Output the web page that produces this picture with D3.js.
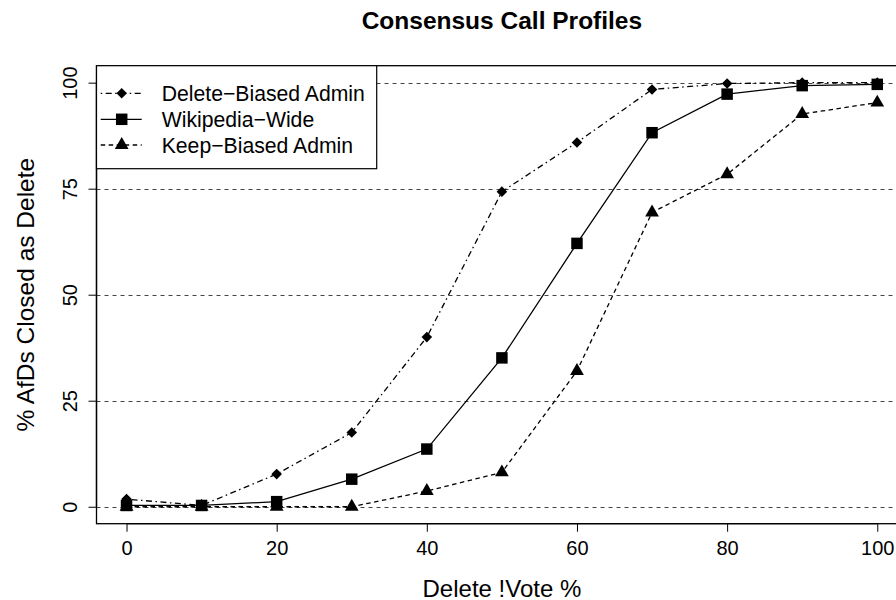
<!DOCTYPE html>
<html>
<head>
<meta charset="utf-8">
<script src="https://cdn.jsdelivr.net/npm/d3@7"></script>
<style>
  html, body { margin: 0; padding: 0; background: #fff; }
  svg { display: block; font-family: "Liberation Sans", Arial, Helvetica, sans-serif; }
</style>
</head>
<body>
<svg id="chart" width="896" height="600"></svg>
<script>
// Share of AfDs closed as delete, by share of delete !votes
const votePct = [0, 10, 20, 30, 40, 50, 60, 70, 80, 90, 100];
const deleteBiased = [1.8, 0.3, 7.7, 17.5, 40.0, 74.3, 85.9, 98.4, 99.8, 100, 100];
const wikipediaWide = [0.3, 0.3, 1.2, 6.5, 13.6, 35.1, 62.1, 88.2, 97.3, 99.3, 99.6];
const keepBiased = [0, 0, 0, 0, 3.7, 8.1, 32.0, 69.4, 78.4, 92.6, 95.3];

const xTicks = [0, 20, 40, 60, 80, 100];
const yTicks = [0, 25, 50, 75, 100];
const seriesNames = ["Delete\u2212Biased Admin", "Wikipedia\u2212Wide", "Keep\u2212Biased Admin"];

const svg = d3.select("#chart");

const x = d3.scaleLinear().domain([-4, 104]).range([96.5, 907.3]);
const y = d3.scaleLinear().domain([-4, 104]).range([523.7, 65.7]);

// square turned 45 degrees (equal width and height)
const symbolRhomb = {
  draw(context, size) {
    const r = Math.sqrt(size / 2);
    context.moveTo(0, -r);
    context.lineTo(r, 0);
    context.lineTo(0, r);
    context.lineTo(-r, 0);
    context.closePath();
  }
};

const styles = [
  { dash: "1.5,3.5,6,3.5", symbol: symbolRhomb, size: 56 },
  { dash: null, symbol: d3.symbolSquare, size: 132 },
  { dash: "4.5,3.5", symbol: d3.symbolTriangle, size: 82 }
];
const seriesValues = [deleteBiased, wikipediaWide, keepBiased];

// horizontal reference lines
svg.append("g").selectAll("line")
  .data(yTicks).join("line")
  .attr("x1", x(-4)).attr("x2", 896)
  .attr("y1", d => Math.round(y(d)) + 0.5).attr("y2", d => Math.round(y(d)) + 0.5)
  .attr("stroke", "#444").attr("stroke-width", 1)
  .attr("stroke-dasharray", "4,4");

// series
const line = d3.line().x((d, i) => x(votePct[i])).y(d => y(d));
seriesValues.forEach((vals, k) => {
  const st = styles[k];
  svg.append("path")
    .datum(vals)
    .attr("d", line)
    .attr("fill", "none")
    .attr("stroke", "#000")
    .attr("stroke-width", 1.3)
    .attr("stroke-dasharray", st.dash);
  svg.append("g").selectAll("path")
    .data(vals).join("path")
    .attr("transform", (d, i) => `translate(${x(votePct[i])},${y(d)})`)
    .attr("d", d3.symbol().type(st.symbol).size(st.size))
    .attr("fill", "#000");
});

// plot box
svg.append("rect")
  .attr("x", x(-4)).attr("y", y(104))
  .attr("width", x(104) - x(-4)).attr("height", y(-4) - y(104))
  .attr("fill", "none").attr("stroke", "#000").attr("stroke-width", 1.3);

// x axis
const xAxis = d3.axisBottom(x).tickValues(xTicks).tickSize(8).tickPadding(9).tickFormat(d3.format("d"));
const gx = svg.append("g").attr("transform", `translate(0,${y(-4)})`).call(xAxis);
gx.select(".domain").attr("d", `M${x(0)},0H${x(100)}`).attr("stroke-width", 1.3);
gx.selectAll("text").attr("font-size", 20).attr("fill", "#000").attr("font-family", "Liberation Sans, Arial, sans-serif");

// y axis
const yAxis = d3.axisLeft(y).tickValues(yTicks).tickSize(8).tickFormat(d3.format("d"));
const gy = svg.append("g").attr("transform", `translate(${x(-4)},0)`).call(yAxis);
gy.select(".domain").attr("d", `M0,${y(0)}V${y(100)}`).attr("stroke-width", 1.3);
gy.selectAll(".tick text")
  .attr("x", null).attr("dy", null)
  .attr("transform", "translate(-19.5,0) rotate(-90)")
  .attr("text-anchor", "middle")
  .attr("font-size", 20).attr("fill", "#000").attr("font-family", "Liberation Sans, Arial, sans-serif");

// titles
svg.append("text")
  .attr("x", (x(-4) + x(104)) / 2).attr("y", 28.5)
  .attr("text-anchor", "middle").attr("font-weight", "bold").attr("font-size", 24.5)
  .text("Consensus Call Profiles");
svg.append("text")
  .attr("x", (x(-4) + x(104)) / 2).attr("y", 596.5)
  .attr("text-anchor", "middle").attr("font-size", 24)
  .text("Delete !Vote %");
svg.append("text")
  .attr("transform", `translate(33.5,${(y(-4) + y(104)) / 2}) rotate(-90)`)
  .attr("text-anchor", "middle").attr("font-size", 24.5)
  .text("% AfDs Closed as Delete");

// legend
const lg = svg.append("g");
lg.append("rect")
  .attr("x", x(-4)).attr("y", y(104))
  .attr("width", 280.2).attr("height", 103)
  .attr("fill", "#fff").attr("stroke", "#000").attr("stroke-width", 1.2);
const rowY = [93.3, 119.3, 145];
seriesNames.forEach((name, k) => {
  const st = styles[k];
  lg.append("line")
    .attr("x1", 100.7).attr("x2", 141.7)
    .attr("y1", rowY[k]).attr("y2", rowY[k])
    .attr("stroke", "#000").attr("stroke-width", 1.3)
    .attr("stroke-dasharray", st.dash);
  lg.append("path")
    .attr("transform", `translate(121.7,${rowY[k]})`)
    .attr("d", d3.symbol().type(st.symbol).size(st.size))
    .attr("fill", "#000");
  lg.append("text")
    .attr("x", 161.7).attr("y", rowY[k]).attr("dy", "0.36em")
    .attr("font-size", 21.2)
    .text(name);
});
</script>
</body>
</html>
